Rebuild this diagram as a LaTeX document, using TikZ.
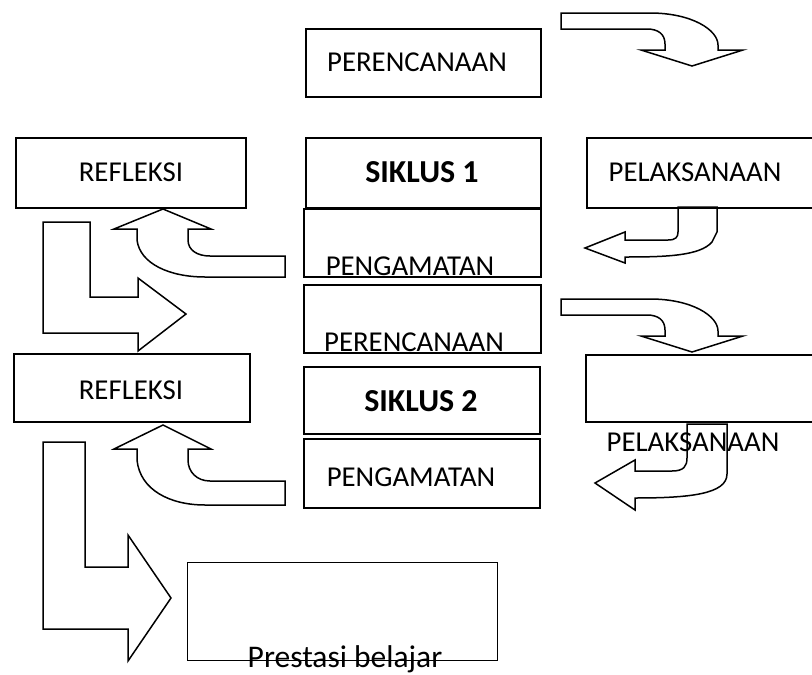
\documentclass[tikz,border=0pt]{standalone}
\usepackage{fontspec}
\setmainfont{Carlito}
\begin{document}
\begin{tikzpicture}[x=1pt,y=-1pt,
  box/.style={draw, line width=2pt, inner sep=0pt, anchor=north west},
  thinbox/.style={box, line width=1.3pt},
  lbl/.style={inner sep=0pt, font=\fontsize{28.8}{34}\selectfont},
  blbl/.style={inner sep=0pt, font=\fontsize{32}{38}\selectfont\bfseries},
  plbl/.style={inner sep=0pt, font=\fontsize{31.5}{37}\selectfont},
  barrow/.style={draw, line width=1.5pt, line join=miter}]
\useasboundingbox (0,0) rectangle (812,675);
\clip (0,0) rectangle (812,675);
\fill[white] (0,0) rectangle (812,675);

% boxes
\node[box, minimum width=235pt, minimum height=68pt] (plan1) at (305,28) {};
\node[box, minimum width=230pt, minimum height=70pt] (ref1) at (15,137) {};
\node[box, minimum width=235pt, minimum height=70pt] (sik1) at (305,137) {};
\node[box, minimum width=240pt, minimum height=70pt] (pel1) at (586,137) {};
\node[box, minimum width=237pt, minimum height=68pt] (obs1) at (303,208) {};
\node[box, minimum width=237pt, minimum height=68pt] (plan2) at (303,284) {};
\node[box, minimum width=236pt, minimum height=68pt] (ref2) at (13,353) {};
\node[box, minimum width=236pt, minimum height=67pt] (sik2) at (303,366) {};
\node[box, minimum width=240pt, minimum height=67pt] (pel2) at (585,354) {};
\node[box, minimum width=236pt, minimum height=69pt] (obs2) at (303,438) {};
\node[thinbox, minimum width=310pt, minimum height=98pt] (pres) at (187,562) {};

% labels
\node[lbl] (plan1t) at (417,62) {PERENCANAAN};
\node[lbl] (ref1t) at (131,172) {REFLEKSI};
\node[blbl] (sik1t) at (422,172) {SIKLUS 1};
\node[lbl] (pel1t) at (695,172) {PELAKSANAAN};
\node[lbl, anchor=base] (obs1t) at (410,275) {PENGAMATAN};
\node[lbl, anchor=base] (plan2t) at (414,351) {PERENCANAAN};
\node[lbl] (ref2t) at (131,390) {REFLEKSI};
\node[blbl] (sik2t) at (421,401) {SIKLUS 2};
\node[lbl, anchor=base] (pel2t) at (693,451) {PELAKSANAAN};
\node[lbl] (obs2t) at (411,477) {PENGAMATAN};
\node[plbl, anchor=base] (prest) at (345,667) {Prestasi belajar};

% block arrows, cycle 1
\draw[barrow] (561,13) -- (650,13) .. controls (692,13) and (718,30) .. (718,45) -- (718,50) -- (743,50) -- (692,66) -- (641,50) -- (665,50) -- (665,44) .. controls (665,34) and (658,29) .. (647,29) -- (561,29) -- cycle;
\draw[barrow] (678,207) -- (717,207) -- (717,232) -- (712,242) .. controls (700,256) and (665,257) .. (625,257) -- (625,263) -- (585,248) -- (625,232) -- (625,240) -- (668,240) .. controls (676,240) and (678,237) .. (678,232) -- cycle;
\draw[barrow] (285,256) -- (210,256) .. controls (197,256) and (188,250) .. (188,240) -- (188,229) -- (211,229) -- (163,209) -- (114,229) -- (137,229) -- (137,240) .. controls (140,264) and (170,277) .. (205,277) -- (285,277) -- cycle;
\draw[barrow] (43,222) -- (90,222) -- (90,297) -- (138,297) -- (138,278) -- (186,314) -- (138,351) -- (138,333) -- (43,333) -- cycle;

% block arrows, cycle 2
\begin{scope}[shift={(0,286)}]
\draw[barrow] (561,13) -- (650,13) .. controls (692,13) and (718,30) .. (718,45) -- (718,50) -- (743,50) -- (692,66) -- (641,50) -- (665,50) -- (665,44) .. controls (665,34) and (658,29) .. (647,29) -- (561,29) -- cycle;
\end{scope}
\draw[barrow] (687,424) -- (727,424) -- (727,474) .. controls (727,494) and (690,498) .. (635,498) -- (635,510) -- (595,483) -- (635,460) -- (635,471) -- (672,471) .. controls (684,471) and (687,466) .. (687,458) -- cycle;
\draw[barrow] (285,481) -- (210,481) .. controls (197,481) and (188,472) .. (188,460) -- (188,449) -- (211,449) -- (163,425) -- (114,449) -- (137,449) -- (137,460) .. controls (140,490) and (170,505) .. (205,505) -- (285,505) -- cycle;
\draw[barrow] (43,442) -- (85,442) -- (85,567) -- (128,567) -- (128,535) -- (171,598) -- (128,661) -- (128,629) -- (43,629) -- cycle;
\end{tikzpicture}
\end{document}
